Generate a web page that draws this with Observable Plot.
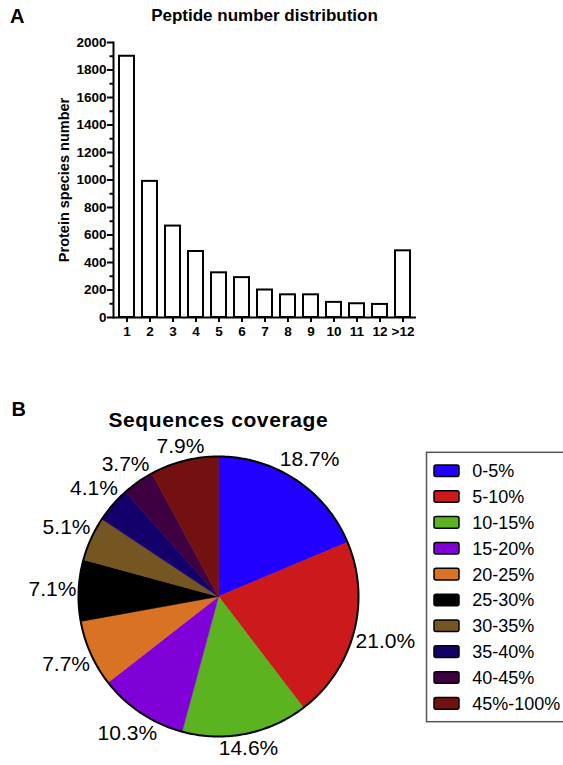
<!DOCTYPE html>
<html><head><meta charset="utf-8">
<script src="https://cdn.jsdelivr.net/npm/d3@7"></script>
<script src="https://cdn.jsdelivr.net/npm/@observablehq/plot@0.6"></script>
<style>
html,body{margin:0;padding:0;background:#fff;overflow:hidden}
#page{position:relative;width:563px;height:765px;font-family:"Liberation Sans",Arial,Helvetica,sans-serif}
#page > svg{position:absolute;left:0}
</style></head><body><div id="page"></div>
<script>
// ---- Panel A data ----
const peptideCategories = ["1","2","3","4","5","6","7","8","9","10","11","12",">12"];
const proteinCounts = [1900, 990, 665, 480, 325, 290, 200, 165, 165, 110, 100, 95, 485];
const yMajorTicks = [0, 200, 400, 600, 800, 1000, 1200, 1400, 1600, 1800, 2000];
const yMinorTicks = [100, 300, 500, 700, 900, 1100, 1300, 1500, 1700, 1900];

// ---- Panel B data ----
const coverageBins = ["0-5%","5-10%","10-15%","15-20%","20-25%","25-30%","30-35%","35-40%","40-45%","45%-100%"];
const coveragePercent = [18.7, 21.0, 14.6, 10.3, 7.7, 7.1, 5.1, 4.1, 3.7, 7.9];
const coverageColors = ["#2200ff","#cc1a1c","#5bb320","#8000d8","#d97323","#000000","#755522","#14006b","#3e0040","#731111"];

const FONT = '"Liberation Sans", Arial, Helvetica, sans-serif';
const page = document.getElementById("page");

// ---------- Panel A ----------
const barData = peptideCategories.map((c, i) => ({category: c, count: proteinCounts[i]}));
const chartA = Plot.plot({
  width: 563, height: 345,
  marginLeft: 113, marginRight: 147, marginTop: 42, marginBottom: 28,
  style: {fontFamily: FONT, color: "black", background: "transparent", overflow: "visible"},
  x: {type: "band", domain: peptideCategories, paddingInner: 0.35, paddingOuter: 0.225, label: null},
  y: {domain: [0, 2000], label: null},
  marks: [
    Plot.barY(barData, {x: "category", y: "count", fill: "white", stroke: "black", strokeWidth: 2}),
    Plot.axisY({ticks: yMajorTicks, tickFormat: d3.format("d"), tickSize: 6, tickPadding: 1, strokeWidth: 2, fontSize: 13.5, fontWeight: "bold", label: null}),
    Plot.axisY({ticks: yMinorTicks, tickSize: 3.5, strokeWidth: 2, tickFormat: () => "", label: null}),
    Plot.axisX({tickSize: 5, tickPadding: 4, strokeWidth: 2, fontSize: 13.5, fontWeight: "bold", label: null}),
    Plot.frame({anchor: "left", strokeWidth: 2}),
    Plot.ruleY([0], {strokeWidth: 2})
  ]
});
chartA.style.top = "0px";
page.appendChild(chartA);

// ---------- Panel B (pie) ----------
const coverageData = coverageBins.map((b, i) => ({bin: b, value: coveragePercent[i], color: coverageColors[i]}));
const arcs = d3.pie().sort(null).value(d => d.value)(coverageData);
const R = 140; // pixel radius implied by x/y ranges below
const slicePts = arcs.map(a => {
  const pts = [{x: 0, y: 0}];
  const n = Math.max(4, Math.ceil((a.endAngle - a.startAngle) / 0.01));
  for (let i = 0; i <= n; i++) {
    const t = a.startAngle + (a.endAngle - a.startAngle) * i / n;
    pts.push({x: Math.sin(t), y: Math.cos(t)});
  }
  pts.push({x: 0, y: 0});
  return {color: a.data.color, pts};
});
const ring = d3.range(0, 361).map(d => ({x: Math.sin(d * Math.PI / 180), y: Math.cos(d * Math.PI / 180)}));

const ctx = document.createElement("canvas").getContext("2d");
ctx.font = `21px ${FONT}`;
const labelData = arcs.map(a => {
  const mid = (a.startAngle + a.endAngle) / 2;
  const text = a.data.value.toFixed(1) + "%";
  const hw = ctx.measureText(text).width / 2, hh = 7.5;
  const ext = Math.abs(Math.sin(mid)) * hw + Math.abs(Math.cos(mid)) * hh;
  const r = 1 + (ext + 2) / R;
  return {text, x: r * Math.sin(mid), y: r * Math.cos(mid)};
});

const chartB = Plot.plot({
  width: 563, height: 385,
  marginLeft: 78, marginRight: 205, marginTop: 76, marginBottom: 29,
  style: {fontFamily: FONT, color: "black", background: "transparent", overflow: "visible"},
  x: {domain: [-1, 1], axis: null},
  y: {domain: [-1, 1], axis: null},
  marks: [
    ...slicePts.map(s => Plot.line(s.pts, {x: "x", y: "y", fill: s.color, stroke: s.color, strokeWidth: 0.6, curve: "linear"})),
    Plot.line(ring, {x: "x", y: "y", stroke: "black", strokeWidth: 2, fill: "none"}),
    Plot.text(labelData, {x: "x", y: "y", text: "text", fontSize: 21, fill: "black"})
  ]
});
chartB.style.top = "380px";
page.appendChild(chartB);

// ---------- Titles, panel letters and legend ----------
const ov = d3.select(page).append("svg")
  .attr("width", 563).attr("height", 765)
  .style("top", "0px").style("pointer-events", "none")
  .attr("font-family", FONT);

ov.append("text").attr("x", 10).attr("y", 22.7).attr("font-size", 20).attr("font-weight", "bold").text("A");
ov.append("text").attr("x", 264.5).attr("y", 20.7).attr("text-anchor", "middle").attr("font-size", 17).attr("font-weight", "bold").text("Peptide number distribution");
ov.append("text").attr("transform", "translate(63.8,180) rotate(-90)").attr("text-anchor", "middle").attr("dominant-baseline", "central")
  .attr("font-size", 14.5).attr("font-weight", "bold").text("Protein species number");

ov.append("text").attr("x", 11.5).attr("y", 415.7).attr("font-size", 20).attr("font-weight", "bold").text("B");
ov.append("text").attr("x", 218.3).attr("y", 426.7).attr("text-anchor", "middle").attr("font-size", 21).attr("font-weight", "bold")
  .attr("letter-spacing", 0.6).text("Sequences coverage");

// legend
ov.append("rect").attr("x", 426.5).attr("y", 452.3).attr("width", 150).attr("height", 269.4)
  .attr("fill", "none").attr("stroke", "#555").attr("stroke-width", 1.5);
const rows = ov.selectAll("g.lg").data(coverageData).join("g").attr("class", "lg")
  .attr("transform", (d, i) => `translate(0,${470.7 + i * 25.85})`);
rows.append("rect").attr("x", 434).attr("y", -5.8).attr("width", 25).attr("height", 11.6).attr("rx", 2)
  .attr("fill", d => d.color).attr("stroke", "black").attr("stroke-width", 1.5);
rows.append("text").attr("x", 472.2).attr("y", 0).attr("dy", "0.36em").attr("font-size", 18).text(d => d.bin);
</script></body></html>
